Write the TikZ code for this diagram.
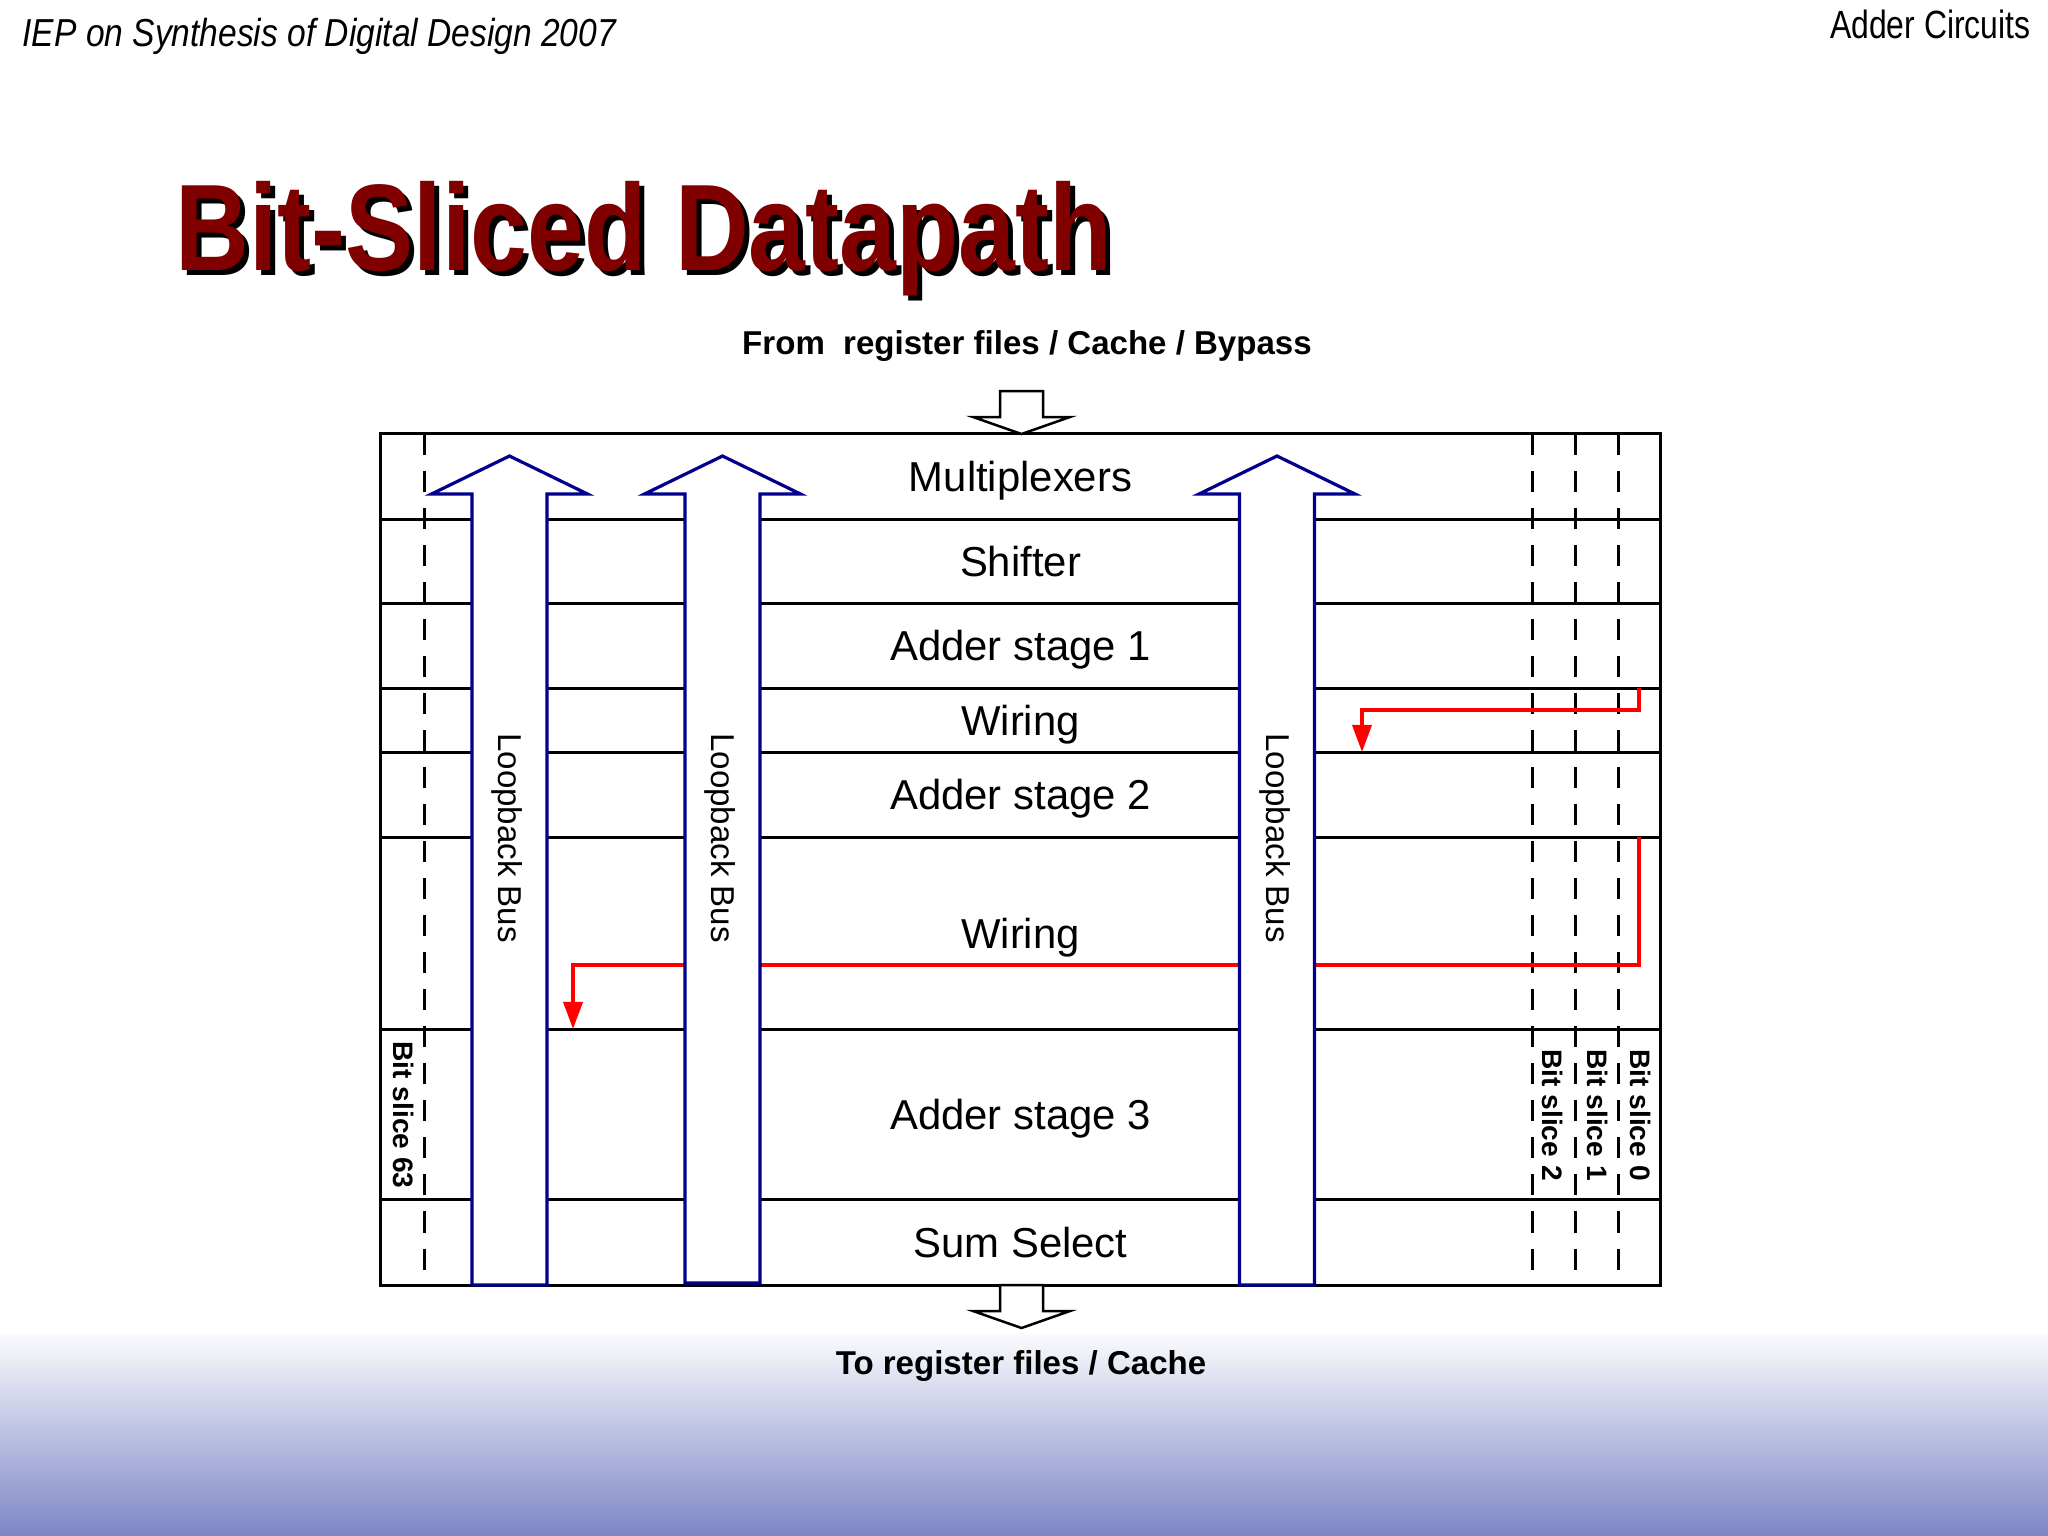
\documentclass[tikz,border=0pt]{standalone}
\usepackage{fontspec}
\setmainfont{Liberation Sans}
\usepackage{tikz}
\usetikzlibrary{positioning, arrows.meta}
\definecolor{titlered}{RGB}{128,0,0}
\definecolor{busblue}{RGB}{0,0,140}
\definecolor{fadeblue}{RGB}{124,134,198}
\tikzset{
    stage/.style = {draw=black, line width=0.03cm, minimum width=12.79cm,
        inner sep=0pt, outer sep=0pt, text height=0.30cm, text depth=0pt,
        font=\fontsize{11.9pt}{14pt}\selectfont},
    slice/.style = {draw=black, line width=0.03cm, dash pattern=on 0.21cm off 0.16cm},
    bus/.style = {draw=busblue, fill=white, line width=0.032cm},
    port/.style = {draw=black, fill=white, line width=0.025cm},
    wire/.style = {draw=red, line width=0.036cm, -{Triangle[length=0.27cm,width=0.19cm]}},
    heading/.style = {anchor=base west, inner sep=0pt, xscale=0.83,
        font=\bfseries\fontsize{35pt}{40pt}\selectfont},
    busnote/.style = {rotate=-90, inner sep=0pt, font=\fontsize{9.4pt}{11pt}\selectfont},
    slicenote/.style = {rotate=-90, inner sep=0pt, font=\bfseries\fontsize{8pt}{10pt}\selectfont},
    ionote/.style = {anchor=base, inner sep=0pt, font=\bfseries\fontsize{9.4pt}{11pt}\selectfont},
}

\begin{document}
\begin{tikzpicture}[x=0.01cm, y=-0.01cm]
    \fill[white] (0,0) rectangle (2048,1536);
    \shade[top color=white!97!fadeblue, bottom color=fadeblue] (0,1333) rectangle (2048,1536);
    % header
    \node[anchor=base west, inner sep=0pt, xscale=0.86, font=\itshape\fontsize{11.1pt}{13pt}\selectfont]
        (event) at (22,46) {IEP on Synthesis of Digital Design 2007};
    \node[anchor=base east, inner sep=0pt, xscale=0.81, font=\fontsize{11.2pt}{13pt}\selectfont]
        (topic) at (2031,38) {Adder Circuits};
    \node[heading] (shadow) at (180,275) {Bit-Sliced Datapath};
    \node[heading, text=titlered] (title) at (175,270) {Bit-Sliced Datapath};
    % stages
    \node[stage, minimum height=0.85cm] (mux) at (1020.5,476.5) {Multiplexers};
    \node[stage, minimum height=0.84cm, below=0pt of mux] (shift) {Shifter};
    \node[stage, minimum height=0.85cm, below=0pt of shift] (add1) {Adder stage 1};
    \node[stage, minimum height=0.64cm, below=0pt of add1] (wire1) {Wiring};
    \node[stage, minimum height=0.85cm, below=0pt of wire1] (add2) {Adder stage 2};
    \node[stage, minimum height=1.92cm, below=0pt of add2] (wire2) {Wiring};
    \node[stage, minimum height=1.70cm, below=0pt of wire2] (add3) {Adder stage 3};
    \node[stage, minimum height=0.86cm, below=0pt of add3] (sumsel) {Sum Select};
    \foreach \sx in {424, 1532, 1575, 1618}
        \draw[slice] (\sx,434) -- (\sx,1285);
    % carries between slices
    \coordinate (tap1) at (1639,688);
    \coordinate (drop1) at (1362,752);
    \coordinate (tap2) at (1639,837);
    \coordinate (drop2) at (573,1029);
    \draw[wire] (tap1) -- ++(0,22) -| (drop1);
    \draw[wire] (tap2) -- ++(0,128) -| (drop2);
    % loopback buses
    \foreach \bx/\bb [count=\i] in {509.5/1285, 722.5/1283, 1277/1285} {
        \draw[bus] (\bx-37.5,\bb) -- (\bx-37.5,494) -- (\bx-78,494) -- (\bx,456)
            -- (\bx+78,494) -- (\bx+37.5,494) -- (\bx+37.5,\bb) -- cycle;
        \node[busnote] (loop\i) at (\bx-2,838) {Loopback Bus};
    }
    \foreach \py in {391, 1285}
        \draw[port] (1000,\py) -- (1000,\py+26) -- (973,\py+26) -- (1021.5,\py+43)
            -- (1070,\py+26) -- (1043,\py+26) -- (1043,\py) -- cycle;
    \node[ionote] (from) at (1027,354) {From\ \ register files / Cache / Bypass};
    \node[ionote] (to) at (1021,1374) {To register files / Cache};
    \node[slicenote] (s63) at (404,1115) {Bit slice 63};
    \node[slicenote] (s2) at (1553,1115) {Bit slice 2};
    \node[slicenote] (s1) at (1597.5,1115) {Bit slice 1};
    \node[slicenote] (s0) at (1641,1115) {Bit slice 0};
\end{tikzpicture}
\end{document}
